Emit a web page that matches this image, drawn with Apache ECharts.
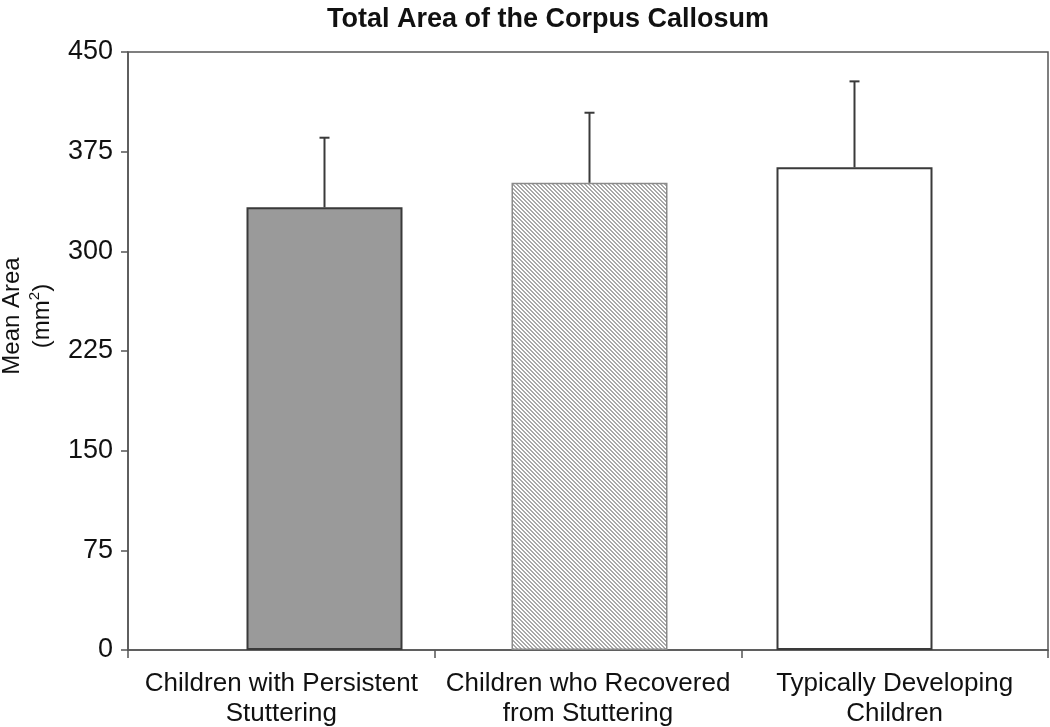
<!DOCTYPE html>
<html>
<head>
<meta charset="utf-8">
<script src="https://cdn.jsdelivr.net/npm/echarts@6/dist/echarts.min.js"></script>
<style>
html,body{margin:0;padding:0;background:#fff;}
#chart{width:1050px;height:727px;}
</style>
</head>
<body>
<div id="chart"></div>
<script>
const categories = ['Children with Persistent\nStuttering', 'Children who Recovered\nfrom Stuttering', 'Typically Developing\nChildren'];
const meanArea = [333.1, 351.6, 363.2];
const upperError = [385.5, 404.3, 427.9];
const yTicks = [0, 75, 150, 225, 300, 375, 450];

function hatch() {
  const c = document.createElement('canvas');
  c.width = 4; c.height = 4;
  const ctx = c.getContext('2d');
  ctx.fillStyle = '#ffffff';
  ctx.fillRect(0, 0, 4, 4);
  ctx.fillStyle = '#a8a8a8';
  for (let y = 0; y < 4; y++) for (let x = 0; x < 4; x++) {
    const d = ((x - y) % 4 + 4) % 4;
    if (d === 0 || d === 1) ctx.fillRect(x, y, 1, 1);
  }
  return c;
}

const font = '"Liberation Sans", Arial, sans-serif';
const chart = echarts.init(document.getElementById('chart'));
const barStyles = [
  {color: '#9a9a9a', borderColor: '#3a3a3a', borderWidth: 2},
  {color: {image: hatch(), repeat: 'repeat'}, borderColor: '#8a8a8a', borderWidth: 1.5},
  {color: '#ffffff', borderColor: '#3a3a3a', borderWidth: 2}
];

chart.setOption({
  animation: false,
  backgroundColor: '#ffffff',
  title: {
    text: 'Total Area of the Corpus Callosum',
    left: 543, top: 1, textAlign: 'center',
    textStyle: {fontFamily: font, fontWeight: 'bold', fontSize: 27, color: '#111'}
  },
  grid: [
    {left: 128, right: 2, top: 52, bottom: 77, show: true, borderColor: '#555', borderWidth: 1.5,
     backgroundColor: 'transparent', containLabel: false, outerBoundsMode: 'none'},
    {left: 192, right: 63, top: 52, bottom: 77, containLabel: false, outerBoundsMode: 'none'}
  ],
  xAxis: [
    {
      type: 'category', gridIndex: 0, data: categories,
      axisLine: {lineStyle: {color: '#555', width: 1.5}},
      axisTick: {show: true, length: 8, lineStyle: {color: '#555', width: 1.5}},
      axisLabel: {fontFamily: font, fontSize: 26, color: '#111', lineHeight: 30, margin: 19, interval: 0}
    },
    {type: 'category', gridIndex: 1, data: categories, show: false}
  ],
  yAxis: [
    {
      type: 'value', gridIndex: 0, min: 0, max: 450, interval: 75,
      name: 'Mean Area\n(mm{sup|2})', nameLocation: 'middle', nameGap: 58, nameRotate: 90,
      nameTextStyle: {fontFamily: font, fontSize: 24, color: '#111', lineHeight: 30,
        padding: [0, 0, 0, 70],
        rich: {sup: {fontFamily: font, fontSize: 15, color: '#111', verticalAlign: 'top', lineHeight: 30, padding: [0, 0, 8, 0]}}},
      axisLine: {show: true, lineStyle: {color: '#555', width: 1.5}},
      axisTick: {show: true, length: 7, lineStyle: {color: '#555', width: 1.5}},
      axisLabel: {fontFamily: font, fontSize: 27, color: '#111', margin: 15,
        formatter: v => yTicks.includes(v) ? String(v) : ''},
      splitLine: {show: false}
    },
    {type: 'value', gridIndex: 1, min: 0, max: 450, show: false, splitLine: {show: false}}
  ],
  series: [
    {
      type: 'bar', xAxisIndex: 1, yAxisIndex: 1, barWidth: 156,
      data: meanArea.map((v, i) => ({value: v, itemStyle: barStyles[i]}))
    },
    {
      type: 'custom', xAxisIndex: 1, yAxisIndex: 1, z: 5,
      data: meanArea.map((v, i) => [i, v, upperError[i]]),
      renderItem: function (params, api) {
        const base = api.coord([api.value(0), api.value(1)]);
        const top = api.coord([api.value(0), api.value(2)]);
        const cap = 5;
        const st = {stroke: '#3a3a3a', lineWidth: 2};
        return {type: 'group', children: [
          {type: 'line', shape: {x1: base[0], y1: base[1], x2: top[0], y2: top[1]}, style: st},
          {type: 'line', shape: {x1: top[0] - cap, y1: top[1], x2: top[0] + cap, y2: top[1]}, style: st}
        ]};
      }
    }
  ]
});
</script>
</body>
</html>
